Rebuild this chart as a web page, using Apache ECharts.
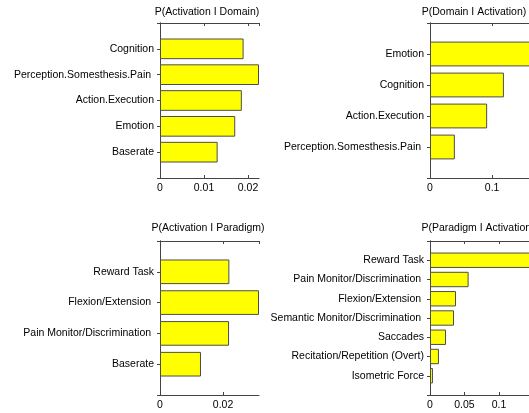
<!DOCTYPE html>
<html>
<head>
<meta charset="utf-8">
<script src="https://cdn.jsdelivr.net/npm/echarts@6/dist/echarts.min.js"></script>
<style>
  html, body { margin: 0; padding: 0; background: #fff; }
  #chart { width: 529px; height: 413px; }
</style>
</head>
<body>
<div id="chart"></div>
<script>
const FONT = '"Liberation Sans", Arial, Helvetica, sans-serif';

// P(Activation | Domain)
const actGivenDomainNames = ['Cognition', 'Perception.Somesthesis.Pain ', 'Action.Execution', 'Emotion', 'Baserate'];
const actGivenDomainValues = [0.0190, 0.0225, 0.0186, 0.0171, 0.0131];

// P(Domain | Activation)
const domainGivenActNames = ['Emotion', 'Cognition', 'Action.Execution', 'Perception.Somesthesis.Pain '];
const domainGivenActValues = [0.161, 0.119, 0.092, 0.040];

// P(Activation | Paradigm)
const actGivenParadigmNames = ['Reward Task', 'Flexion/Extension ', 'Pain Monitor/Discrimination ', 'Baserate'];
const actGivenParadigmValues = [0.0220, 0.0314, 0.0219, 0.0130];

// P(Paradigm | Activation)
const paradigmGivenActNames = ['Reward Task', 'Pain Monitor/Discrimination ', 'Flexion/Extension ', 'Semantic Monitor/Discrimination ', 'Saccades', 'Recitation/Repetition (Overt)', 'Isometric Force'];
const paradigmGivenActValues = [0.145, 0.056, 0.0377, 0.0348, 0.0232, 0.0130, 0.0043];

// x-axis tick steps per panel
const tickSteps = [0.01, 0.1, 0.02, 0.05];

const panels = [
  { title: 'P(Activation I Domain)',   names: actGivenDomainNames,   values: actGivenDomainValues,   step: tickSteps[0], left: 160, top: 23,  width: 99,  height: 155, titleX: 207, titleY: 6.5 },
  { title: 'P(Domain I Activation)',   names: domainGivenActNames,   values: domainGivenActValues,   step: tickSteps[1], left: 430, top: 23,  width: 100, height: 155, titleX: 474, titleY: 6.5 },
  { title: 'P(Activation I Paradigm)', names: actGivenParadigmNames, values: actGivenParadigmValues, step: tickSteps[2], left: 160, top: 241, width: 99,  height: 154, titleX: 208, titleY: 222 },
  { title: 'P(Paradigm I Activation)', names: paradigmGivenActNames, values: paradigmGivenActValues, step: tickSteps[3], left: 430, top: 241, width: 100, height: 154, titleX: 478, titleY: 222 }
];

const AXIS_COLOR = '#444';
const option = { animation: false, title: [], grid: [], xAxis: [], yAxis: [], series: [] };

panels.forEach((p, i) => {
  // empty end slots give half a bar spacing of room above and below
  const cats = [''].concat(p.names, ['']);
  const data = ['-'].concat(p.values, ['-']);
  const xmax = Math.max(...p.values);

  option.grid.push({
    left: p.left, top: p.top, width: p.width, height: p.height,
    containLabel: false, outerBoundsMode: 'none'
  });

  option.title.push({
    text: p.title, left: p.titleX, top: p.titleY, textAlign: 'center', padding: 0,
    textStyle: { fontFamily: FONT, fontSize: 10.5, fontWeight: 'normal', color: '#000', lineHeight: 12 }
  });

  const xCommon = {
    type: 'value', gridIndex: i, min: 0, max: xmax, interval: p.step,
    splitLine: { show: false },
    axisLine: { show: true, lineStyle: { color: AXIS_COLOR, width: 1 } },
    axisTick: { show: true, inside: true, length: 3, lineStyle: { color: AXIS_COLOR } }
  };
  option.xAxis.push(Object.assign({}, xCommon, {
    position: 'bottom',
    axisLabel: { show: true, margin: 5, showMaxLabel: false, fontFamily: FONT, fontSize: 10.5, color: '#000' }
  }));
  option.xAxis.push(Object.assign({}, xCommon, {
    position: 'top', axisLabel: { show: false }
  }));

  const yCommon = {
    type: 'category', gridIndex: i, data: cats, inverse: true, boundaryGap: false,
    splitLine: { show: false },
    axisLine: { show: true, lineStyle: { color: AXIS_COLOR, width: 1 } },
    axisTick: { show: true, inside: true, length: 3, interval: 0, lineStyle: { color: AXIS_COLOR } }
  };
  option.yAxis.push(Object.assign({}, yCommon, {
    position: 'left',
    axisLabel: { show: true, interval: 0, margin: 6, fontFamily: FONT, fontSize: 10.5, color: '#000' }
  }));
  option.yAxis.push(Object.assign({}, yCommon, {
    position: 'right', axisLabel: { show: false }
  }));

  option.series.push({
    type: 'bar', xAxisIndex: 2 * i, yAxisIndex: 2 * i, data: data,
    barWidth: '80%', silent: true,
    itemStyle: { color: '#ffff00', borderColor: '#4d4d4d', borderWidth: 1 }
  });
});

const chart = echarts.init(document.getElementById('chart'), null, { renderer: 'canvas' });
chart.setOption(option);
</script>
</body>
</html>
